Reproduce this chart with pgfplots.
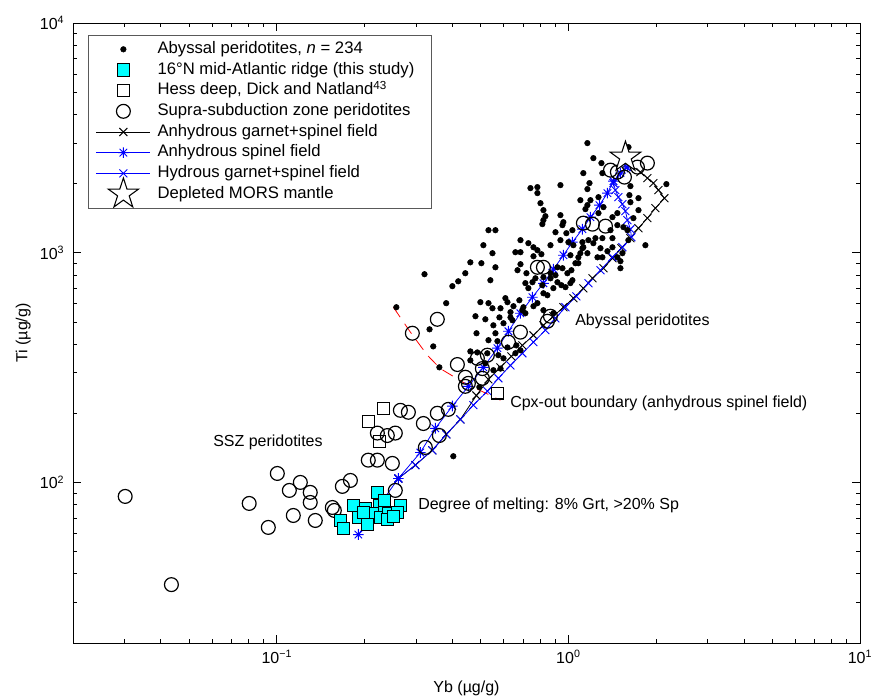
\documentclass[border=0pt]{standalone}
\usepackage{fontspec}
\setmainfont{Liberation Sans}
\usepackage{pgfplots}
\usepackage{pgfplotstable}
\pgfplotsset{compat=1.18}
\usetikzlibrary{plotmarks}
\definecolor{mcyan}{RGB}{0,255,255}
\definecolor{mblue}{RGB}{0,0,255}
\definecolor{mred}{RGB}{255,0,0}

\pgfdeclareplotmark{pentastar}{%
  \pgfpathmoveto{\pgfpointpolar{90}{\pgfplotmarksize}}%
  \pgfpathlineto{\pgfpointpolar{126}{0.382\pgfplotmarksize}}%
  \pgfpathlineto{\pgfpointpolar{162}{\pgfplotmarksize}}%
  \pgfpathlineto{\pgfpointpolar{198}{0.382\pgfplotmarksize}}%
  \pgfpathlineto{\pgfpointpolar{234}{\pgfplotmarksize}}%
  \pgfpathlineto{\pgfpointpolar{270}{0.382\pgfplotmarksize}}%
  \pgfpathlineto{\pgfpointpolar{306}{\pgfplotmarksize}}%
  \pgfpathlineto{\pgfpointpolar{342}{0.382\pgfplotmarksize}}%
  \pgfpathlineto{\pgfpointpolar{18}{\pgfplotmarksize}}%
  \pgfpathlineto{\pgfpointpolar{54}{0.382\pgfplotmarksize}}%
  \pgfpathclose
  \pgfusepathqfillstroke
}
\pgfdeclareplotmark{mstar}{%
  \pgfpathmoveto{\pgfqpoint{-\pgfplotmarksize}{0pt}}%
  \pgfpathlineto{\pgfqpoint{\pgfplotmarksize}{0pt}}%
  \pgfpathmoveto{\pgfqpoint{0pt}{-\pgfplotmarksize}}%
  \pgfpathlineto{\pgfqpoint{0pt}{\pgfplotmarksize}}%
  \pgfpathmoveto{\pgfpoint{-0.7071\pgfplotmarksize}{-0.7071\pgfplotmarksize}}%
  \pgfpathlineto{\pgfpoint{0.7071\pgfplotmarksize}{0.7071\pgfplotmarksize}}%
  \pgfpathmoveto{\pgfpoint{-0.7071\pgfplotmarksize}{0.7071\pgfplotmarksize}}%
  \pgfpathlineto{\pgfpoint{0.7071\pgfplotmarksize}{-0.7071\pgfplotmarksize}}%
  \pgfusepathqstroke
}
\pgfdeclareplotmark{msquare}{%
  \pgfpathrectangle{\pgfqpoint{-\pgfplotmarksize}{-\pgfplotmarksize}}{\pgfqpoint{2\pgfplotmarksize}{2\pgfplotmarksize}}%
  \pgfusepathqfillstroke
}

% Abyssal peridotites (Yb, Ti)
\pgfplotstableread{
x y
1.162 3000
1.218 2580
1.298 2455
1.125 2220
1.308 2220
1.181 2009
1.162 1892
0.939 1969
0.783 1930
0.741 1911
0.783 1818
1.607 2881
1.632 1949
1.619 1781
1.739 1728
2.168 1989
1.268 1745
1.099 1693
0.802 1643
1.162 1611
1.144 1548
1.319 1579
1.268 1487
1.416 1428
1.472 1487
1.394 1253
1.472 1318
1.544 1292
1.632 1659
1.739 1532
1.671 1414
1.308 1157
1.238 1157
1.416 1157
1.288 1046
1.361 1015
1.606 1134
1.837 1078
1.532 995
1.508 918
1.508 856
1.308 955
1.416 1056
1.218 1100
1.117 1111
1.117 1046
1.162 995
1.082 955
1.016 975
1.082 900
1.000 1111
0.984 1216
1.032 1253
0.961 1358
0.903 1228
0.939 1134
0.868 1078
0.939 1457
0.821 1532
0.834 1442
0.821 1386
0.814 1332
0.954 1318
1.171 1134
1.125 1056
1.099 995
0.532 1253
0.562 1253
0.511 1078
0.685 1134
0.729 1100
0.759 1056
0.783 1025
0.808 985
0.759 965
0.549 995
0.658 1005
0.685 1005
0.461 908
0.503 900
0.562 864
0.685 891
0.669 839
0.718 814
0.443 814
0.321 806
0.419 751
0.400 715
0.540 759
0.712 737
0.753 744
0.729 701
0.821 666
0.847 653
0.917 744
0.868 774
0.903 798
0.992 814
1.024 839
1.057 900
1.016 737
1.032 759
0.977 708
0.946 722
0.888 701
0.917 864
0.954 856
0.868 814
0.821 782
0.771 774
0.814 722
0.499 609
0.532 603
0.618 609
0.608 634
0.648 585
0.679 621
0.712 545
0.701 579
0.759 585
0.821 562
0.888 545
0.257 579
0.381 603
0.480 529
0.519 513
0.580 523
0.585 573
0.549 573
0.633 523
0.633 551
0.643 508
0.695 562
0.783 603
0.553 483
0.599 493
0.484 446
0.334 464
0.532 416
0.571 412
0.562 446
0.344 391
0.618 387
0.685 376
0.663 395
0.658 365
0.487 368
0.461 372
0.527 365
0.461 340
0.575 358
0.599 347
0.519 330
0.585 313
0.553 308
0.361 317
0.495 260
0.403 130
1.472 955
1.190 1693
1.040 1078
1.258 955
1.594 1253
}\abyssal

% Supra-subduction zone peridotites
\pgfplotstableread{
x y
0.0302 86.9
0.0435 35.9
0.0804 81.0
0.0935 63.7
0.1004 109.4
0.1104 92.3
0.1139 71.8
0.1204 100
0.1302 90.5
0.1302 81.8
0.1355 68.3
0.1550 77.8
0.1575 75.5
0.1678 96.1
0.1788 102
0.2059 125
0.2212 125
0.2490 121
0.2212 164
0.2393 160
0.2549 164
0.2549 92.3
0.2653 206
0.2826 202
0.3181 180.5
0.3552 200
0.3875 208
0.3231 142
0.3609 160
0.4539 270
0.2916 446
0.3552 513
0.4161 326
0.4432 287
0.4432 262
0.5069 284
0.4873 347
0.5274 358
0.5069 313
0.6226 408
0.6845 451
0.8675 529
0.8472 503
0.7829 864
0.8209 864
1.1255 1345
1.209 1331
1.340 1305
1.394 2288
1.472 2243
1.557 2133
1.725 2358
1.866 2455
}\ssz

% 16N mid-Atlantic ridge
\pgfplotstableread{
x y
0.2212 90.5
0.1830 79.4
0.2011 77.1
0.2247 79.4
0.2653 79.4
0.1904 70.4
0.2126 73.3
0.2265 70.4
0.2412 73.3
0.2590 74.0
0.1651 68.3
0.1691 63.0
0.2043 65.6
0.2393 69.0
0.1981 74.0
0.2510 71.1
0.2338 83.5
}\mar

% Hess deep
\pgfplotstableread{
x y
0.2319 210
0.2059 184
0.2247 150.5
0.5707 244.5
}\hess

% Anhydrous garnet+spinel field
\pgfplotstableread{
x y
1.594 2455
1.766 2243
1.866 2112
1.957 2009
2.036 1873
2.134 1727
1.988 1563
1.866 1414
1.738 1278
1.632 1157
1.520 1046
1.416 946
1.319 856
1.209 774
1.1255 700
1.0405 634
0.9614 579
0.8884 529
0.8209 483
0.7586 437
0.6954 395
0.6375 354
0.5845 317
0.5316 281
0.4835 239
0.4261 188
0.3814 162
0.3414 138
0.2987 119
0.2611 104
}\anhgs

% Anhydrous spinel field
\pgfplotstableread{
x y
1.594 2358
1.508 2220
1.4276 2049
1.361 1817
1.278 1611
1.190 1428
1.1165 1266
1.032 1111
0.9614 975
0.8884 847
0.8209 736
0.7526 640
0.6845 545
0.6226 455
0.5707 384
0.5110 317
0.4539 262
0.4000 215
0.3497 172
0.3106 135
0.2611 104
0.1904 59.3
}\anhsp

% Hydrous garnet+spinel field
\pgfplotstableread{
x y
1.581 2358
1.4276 2009
1.449 1873
1.484 1746
1.532 1627
1.569 1517
1.594 1386
1.632 1266
1.645 1168
1.532 1057
1.416 956
1.288 839
1.1715 736
1.065 646
0.9766 579
0.9025 518
0.8339 460
0.7586 408
0.6954 365
0.6325 323
0.5754 284
0.5274 249.5
0.4722 217
0.4261 188
0.3814 162
0.3414 138
0.2987 119
0.2611 104
}\hydgs

% Cpx-out boundary
\pgfplotstableread{
x y
0.2510 579
0.2871 451
0.3282 358
0.3638 313
0.4363 272.5
0.5845 228
}\cpxout

\begin{document}
\begin{tikzpicture}
\useasboundingbox (-54.75pt,-42pt) rectangle (601.5pt,482.25pt);
\begin{axis}[
  at={(0pt,0pt)}, anchor=south west,
  xmode=log, ymode=log,
  scale only axis, width=590.25pt, height=465pt,
  xmin=0.02, xmax=10, ymin=20, ymax=10000,
  xtick={0.1,1,10},
  xticklabels={10\textsuperscript{\textminus1},10\textsuperscript{0},10\textsuperscript{1}},
  ytick={100,1000,10000},
  yticklabels={10\textsuperscript{2},10\textsuperscript{3},10\textsuperscript{4}},
  minor xtick={0.03,0.04,0.05,0.06,0.07,0.08,0.09,0.2,0.3,0.4,0.5,0.6,0.7,0.8,0.9,2,3,4,5,6,7,8,9},
  minor ytick={30,40,50,60,70,80,90,200,300,400,500,600,700,800,900,2000,3000,4000,5000,6000,7000,8000,9000},
  tick align=inside,
  major tick length=6pt, minor tick length=3pt,
  every tick/.style={black, line width=0.5pt},
  axis line style={line width=0.6pt},
  ticklabel style={font=\fontsize{12}{14}\selectfont},
  xticklabel style={yshift=-2pt},
  yticklabel style={xshift=-3pt},
  xlabel={Yb (µg/g)}, ylabel={Ti (µg/g)},
  label style={font=\fontsize{12}{14}\selectfont},
  xlabel style={yshift=-6pt},
  legend cell align=left,
  legend style={at={(0.01906,0.98065)}, anchor=north west, draw=black!65,
    font=\fontsize{12.5}{14}\selectfont, inner xsep=6pt, inner ysep=2.8pt,
    nodes={inner xsep=3pt, inner ysep=1.75pt, text height=9.2pt, text depth=2.8pt}},
  legend image code/.code={%
    \path[draw=none,fill=none] (0pt,-4pt) rectangle (43pt,4pt);
    \pgfinterruptboundingbox
    \draw[mark repeat=2,mark phase=2,#1] plot coordinates {(0pt,0pt) (20.35pt,0pt) (40pt,0pt)};
    \endpgfinterruptboundingbox
  },
]
% legend entries
\addlegendimage{only marks, mark=*, mark size=2.1pt, black}
\addlegendentry{Abyssal peridotites, \textit{n} = 234}
\addlegendimage{only marks, mark=msquare, mark size=4.6pt, mark options={fill=mcyan, draw=black, line width=0.9pt}}
\addlegendentry{16°N mid-Atlantic ridge (this study)\hspace*{3.5pt}}
\addlegendimage{only marks, mark=msquare, mark size=4.4pt, mark options={fill=white, draw=black, line width=0.9pt}}
\addlegendentry{Hess deep, Dick and Natland\textsuperscript{43}}
\addlegendimage{only marks, mark=o, mark size=5.2pt, mark options={draw=black, line width=0.9pt}}
\addlegendentry{Supra-subduction zone peridotites}
\addlegendimage{black, line width=0.6pt, mark=x, mark size=4.2pt, mark options={line width=0.7pt}}
\addlegendentry{Anhydrous garnet+spinel field}
\addlegendimage{mblue, line width=0.6pt, mark=mstar, mark size=4pt, mark options={line width=0.7pt}}
\addlegendentry{Anhydrous spinel field}
\addlegendimage{mblue, line width=0.6pt, mark=x, mark size=4.2pt, mark options={line width=0.7pt}}
\addlegendentry{Hydrous garnet+spinel field}
\addlegendimage{only marks, mark=pentastar, mark size=12pt, mark options={fill=white, draw=black, line width=0.8pt}}
\addlegendentry{Depleted MORS mantle}

% data
\addplot[forget plot, mred, line width=0.6pt, dash pattern=on 9pt off 6pt] table {\cpxout};
\addplot[forget plot, black, line width=0.6pt, mark=x, mark size=4.2pt, mark options={line width=0.7pt}] table {\anhgs};
\addplot[forget plot, mblue, line width=0.6pt, mark=mstar, mark size=4pt, mark options={line width=0.7pt}] table {\anhsp};
\addplot[forget plot, mblue, line width=0.6pt, mark=x, mark size=4.2pt, mark options={line width=0.7pt}] table {\hydgs};
\addplot[forget plot, only marks, mark=*, mark size=2.1pt, black] table {\abyssal};
\addplot[forget plot, only marks, mark=o, mark size=5.2pt, mark options={draw=black, line width=0.9pt}] table {\ssz};
\addplot[forget plot, only marks, mark=square, mark size=4.4pt, mark options={draw=black, line width=0.9pt}] table {\hess};
\addplot[forget plot, only marks, mark=square*, mark size=4.6pt, mark options={fill=mcyan, draw=black, line width=0.9pt}] table {\mar};
\addplot[forget plot, only marks, mark=pentastar, mark size=12pt, mark options={fill=white, draw=black, line width=0.8pt}] coordinates {(1.569,2606)};

\node[anchor=base west, inner sep=0pt, font=\fontsize{12}{14}\selectfont] at (axis description cs:0.6379,0.5113) {Abyssal peridotites};
\node[anchor=base west, inner sep=0pt, font=\fontsize{12}{14}\selectfont] at (axis description cs:0.5553,0.3806) {Cpx-out boundary (anhydrous spinel field)};
\node[anchor=base west, inner sep=0pt, font=\fontsize{12}{14}\selectfont] at (axis description cs:0.1779,0.3177) {SSZ peridotites};
\node[anchor=base west, inner sep=0pt, font=\fontsize{12}{14}\selectfont] at (axis description cs:0.4384,0.2161) {Degree of melting: 8\% Grt, >20\% Sp};
\end{axis}
\end{tikzpicture}
\end{document}
